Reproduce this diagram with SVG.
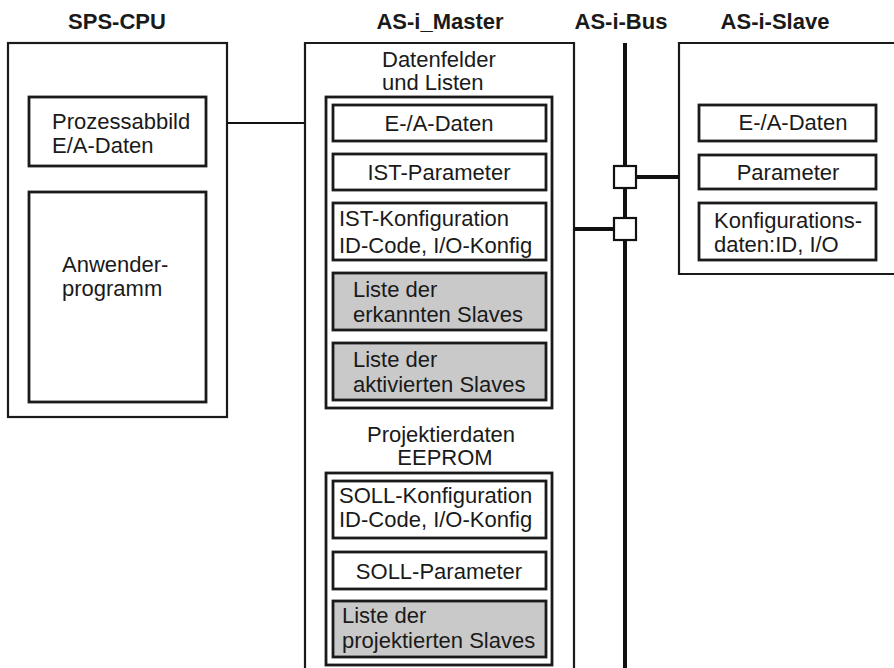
<svg xmlns="http://www.w3.org/2000/svg" width="894" height="668" viewBox="0 0 894 668">
<style>
  .outer{fill:none;stroke:#1a1a1a;stroke-width:2.2}
  .inner{fill:#fff;stroke:#1a1a1a;stroke-width:2.8}
  .item{fill:#fff;stroke:#1a1a1a;stroke-width:2.8}
  .gray{fill:#c9c9c9;stroke:#1a1a1a;stroke-width:2.8}
  text{font-family:"Liberation Sans",Arial,sans-serif;font-size:22px;fill:#1a1a1a}
  .title{font-weight:bold;font-size:22px;text-anchor:middle}
  .c{text-anchor:middle}
  .bus{stroke:#111;stroke-width:4;fill:none}
  .conn{stroke:#111;stroke-width:2.2;fill:none}
  .tap{fill:#fff;stroke:#111;stroke-width:2.2}
</style>
<rect width="894" height="668" fill="#fff"/>

<g id="titles">
  <text class="title" x="117" y="29">SPS-CPU</text>
  <text class="title" x="440" y="29">AS-i_Master</text>
  <text class="title" x="621" y="29">AS-i-Bus</text>
  <text class="title" x="775" y="29">AS-i-Slave</text>
</g>

<g id="sps-cpu">
  <rect class="outer" x="8" y="43" width="219" height="374"/>
  <g id="prozessabbild">
    <rect class="item" x="29" y="97" width="177" height="69"/>
    <text x="52" y="129">Prozessabbild</text>
    <text x="52" y="153">E/A-Daten</text>
  </g>
  <g id="anwenderprogramm">
    <rect class="item" x="29" y="192" width="177" height="210"/>
    <text x="62" y="272">Anwender-</text>
    <text x="62" y="296">programm</text>
  </g>
</g>

<g id="as-i-master">
  <path class="outer" d="M305,672 V43 H574 V672"/>
  <text x="382" y="67">Datenfelder</text>
  <text x="382" y="90">und Listen</text>
  <g id="datenfelder">
    <rect class="inner" x="326" y="97" width="226" height="311"/>
    <g id="m-ea"><rect class="item" x="333" y="105" width="213" height="36"/><text class="c" x="439" y="131">E-/A-Daten</text></g>
    <g id="m-istparam"><rect class="item" x="333" y="154" width="213" height="36"/><text class="c" x="439" y="180">IST-Parameter</text></g>
    <g id="m-istkonfig"><rect class="item" x="333" y="203" width="213" height="57"/><text x="339" y="226">IST-Konfiguration</text><text x="339" y="253">ID-Code, I/O-Konfig</text></g>
    <g id="m-erkannt"><rect class="gray" x="333" y="273" width="213" height="57"/><text x="353" y="297">Liste der</text><text x="353" y="322">erkannten Slaves</text></g>
    <g id="m-aktiviert"><rect class="gray" x="333" y="343" width="213" height="57"/><text x="353" y="367">Liste der</text><text x="353" y="392">aktivierten Slaves</text></g>
  </g>
  <text class="c" x="441" y="442">Projektierdaten</text>
  <text class="c" x="445" y="465">EEPROM</text>
  <g id="projektierdaten">
    <rect class="inner" x="326" y="473" width="226" height="192"/>
    <g id="m-sollkonfig"><rect class="item" x="333" y="481" width="213" height="57"/><text x="339" y="503">SOLL-Konfiguration</text><text x="339" y="527">ID-Code, I/O-Konfig</text></g>
    <g id="m-sollparam"><rect class="item" x="333" y="552" width="213" height="37"/><text class="c" x="439" y="579">SOLL-Parameter</text></g>
    <g id="m-projektiert"><rect class="gray" x="333" y="601" width="213" height="56"/><text x="342" y="623">Liste der</text><text x="342" y="648">projektierten Slaves</text></g>
  </g>
</g>

<g id="as-i-slave">
  <path class="outer" d="M900,43 H679 V274 H900"/>
  <g id="s-ea"><rect class="item" x="699" y="105" width="177" height="36"/><text class="c" x="793" y="130">E-/A-Daten</text></g>
  <g id="s-param"><rect class="item" x="699" y="155" width="177" height="34"/><text class="c" x="788" y="180">Parameter</text></g>
  <g id="s-konfig"><rect class="item" x="699" y="203" width="177" height="57"/><text x="714" y="228">Konfigurations-</text><text x="714" y="252">daten:ID, I/O</text></g>
</g>

<g id="connectors">
  <line class="bus" x1="625" y1="43" x2="625" y2="672"/>
  <line class="conn" x1="227" y1="123" x2="305" y2="123"/>
  <line class="bus" x1="574" y1="229" x2="614" y2="229"/>
  <line class="bus" x1="637" y1="177" x2="679" y2="177"/>
  <rect class="tap" x="614" y="166" width="22" height="22"/>
  <rect class="tap" x="614" y="218" width="22" height="22"/>
</g>
</svg>
